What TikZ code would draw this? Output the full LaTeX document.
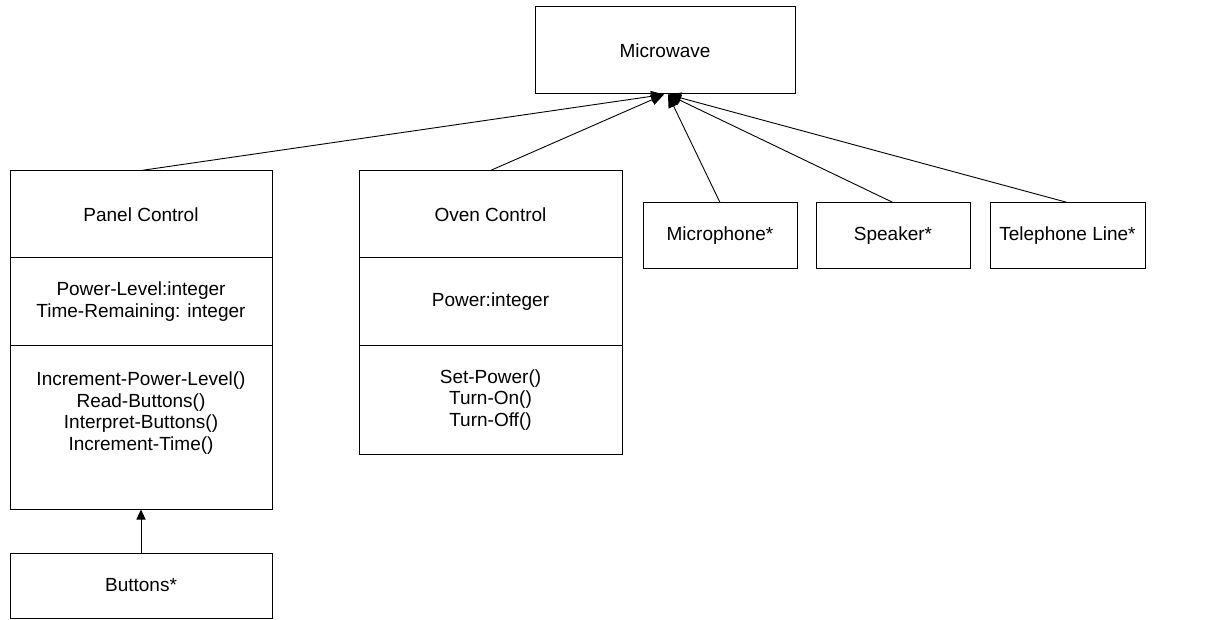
\documentclass[tikz,border=0pt]{standalone}
\usepackage{fontspec}
\setmainfont{Liberation Sans}
\usetikzlibrary{arrows.meta}
\begin{document}
\begin{tikzpicture}[x=1pt,y=-1pt,
  box/.style={draw=black,line width=1pt,rectangle,inner sep=0pt,align=center,
    font=\fontsize{19}{22}\selectfont},
  txt/.style={inner sep=0pt,align=center,font=\fontsize{19}{21.7}\selectfont},
  gen/.style={draw=black,line width=0.9pt,-{Triangle[length=13pt,width=11pt]}},
  gensmall/.style={draw=black,line width=0.9pt,-{Triangle[length=10pt,width=9pt]}}]
\useasboundingbox (0,0) rectangle (1221,620);
% Microwave
\node[box,minimum width=260pt,minimum height=87pt] (mw) at (665,50.5) {Microwave};
% Panel Control
\node[box,minimum width=262pt,minimum height=87pt] (pA) at (141,214.5) {Panel Control};
\node[box,minimum width=262pt,minimum height=88pt] (pB) at (141,302) {Power-Level:integer\\Time-Remaining: integer};
\node[box,minimum width=262pt,minimum height=163pt] (pC) at (141,427.5) {};
\node[txt] (pCt) at (141,413) {Increment-Power-Level()\\Read-Buttons()\\Interpret-Buttons()\\Increment-Time()};
% Oven Control
\node[box,minimum width=263pt,minimum height=87pt] (oA) at (490.5,214.5) {Oven Control};
\node[box,minimum width=263pt,minimum height=88pt] (oB) at (490.5,302) {Power:integer};
\node[box,minimum width=263pt,minimum height=108pt,font=\fontsize{19}{21.7}\selectfont] (oC) at (490.5,400) {Set-Power()\\Turn-On()\\Turn-Off()};
% small classes
\node[box,minimum width=154pt,minimum height=66pt] (mic) at (720,236) {Microphone*};
\node[box,minimum width=154pt,minimum height=66pt] (spk) at (893,236) {Speaker*};
\node[box,minimum width=155pt,minimum height=66pt] (tel) at (1067.5,236) {Telephone Line*};
\node[box,minimum width=262pt,minimum height=65pt] (btn) at (141,585.5) {Buttons*};
% connector tips
\coordinate (tipL) at ([xshift=-1pt]mw.south);
\coordinate (tipR) at ([xshift=3pt]mw.south);
% connectors
\draw[gen] (pA.north) -- (tipL);
\draw[gen] (oA.north) -- (tipL);
\draw[gen] (mic.north) -- (tipR);
\draw[gen] (spk.north) -- (tipR);
\draw[gen] (tel.north) -- (tipR);
\draw[gensmall] (btn.north) -- (pC.south);
\end{tikzpicture}
\end{document}
